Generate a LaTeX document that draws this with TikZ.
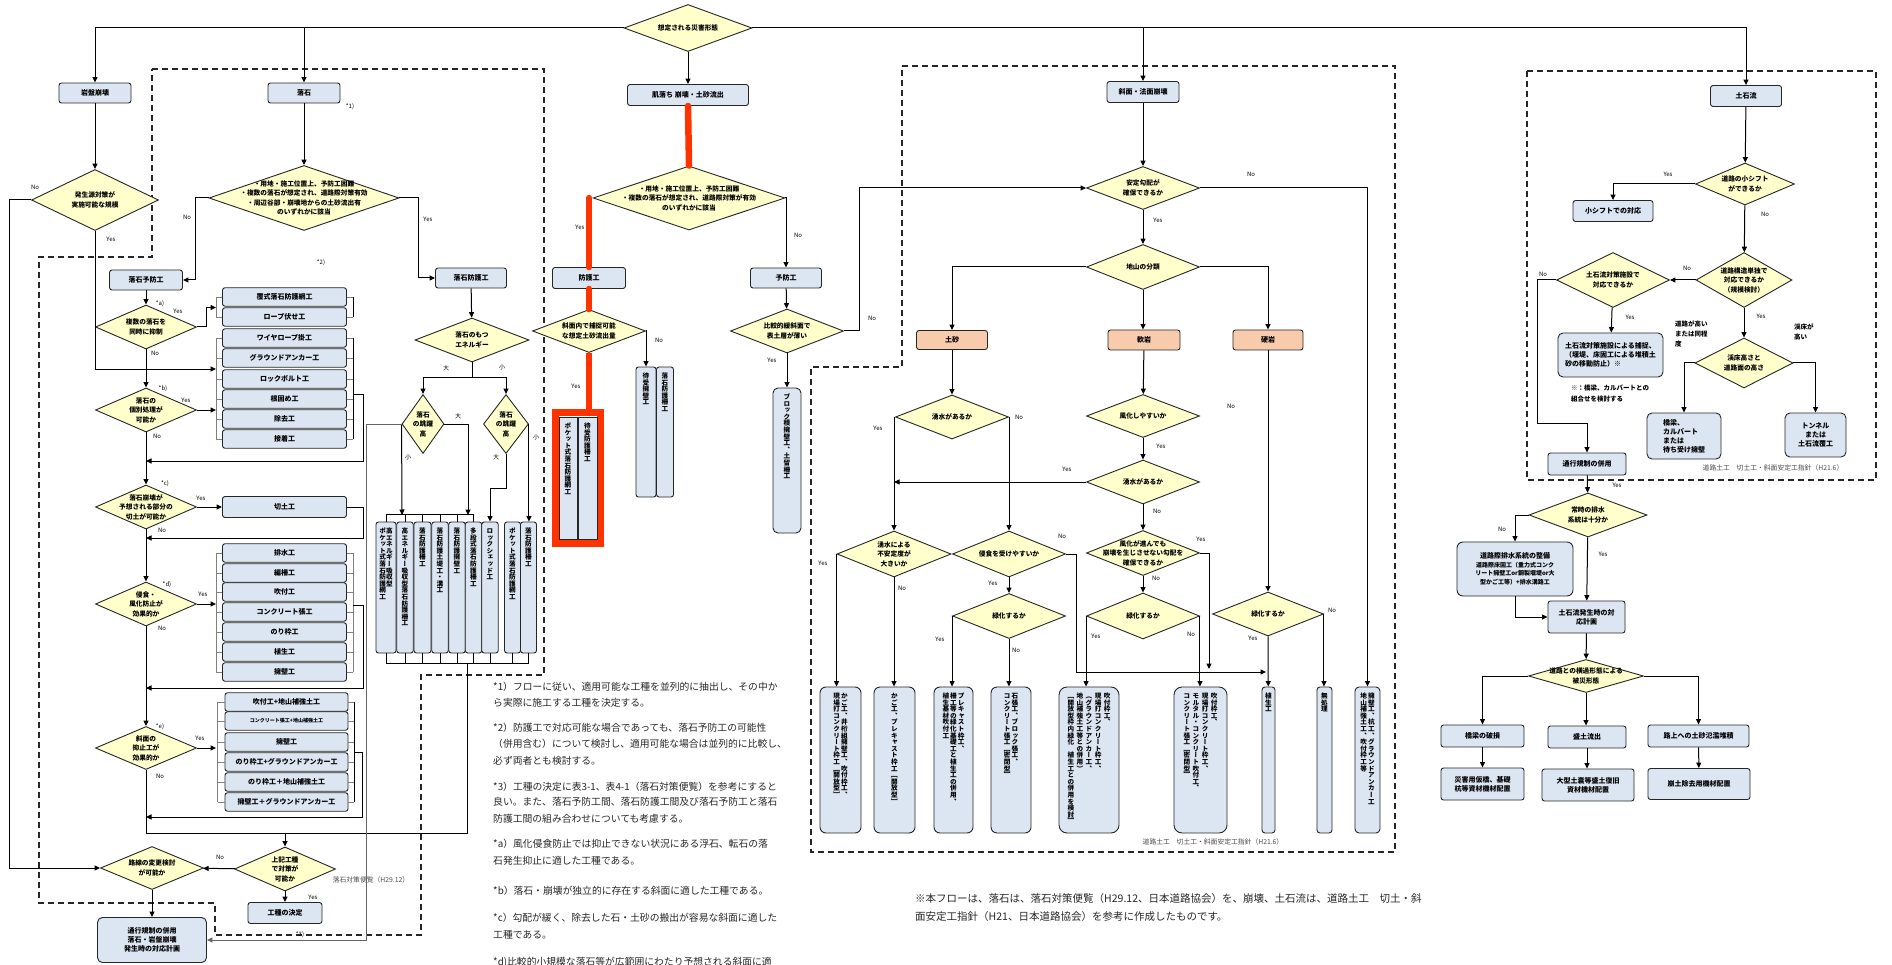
\documentclass[tikz,border=0pt]{standalone}
\usepackage{fontspec}
\newfontfamily\jp{Noto Sans CJK JP}
\newfontfamily\jpv[RawFeature=+vert]{Noto Sans CJK JP}
\usetikzlibrary{shapes.geometric,arrows.meta,calc}
\definecolor{boxblue}{RGB}{220,230,242}
\definecolor{diayel}{RGB}{255,255,204}
\definecolor{boxorange}{RGB}{248,203,173}
\definecolor{hlred}{RGB}{255,51,0}
\makeatletter
\def\tcol@a#1{\ifx\relax#1\else\hbox to 1em{\vrule height .88em depth .12em width 0pt\hss#1\hss}\expandafter\tcol@a\fi}
\newcommand\tcol[1]{\vtop{\offinterlineskip\tcol@a#1\relax}}
\makeatother
\tikzset{
 conn/.style={line width=1pt, draw=black},
 arr/.style={conn, -{Triangle[length=5.5pt,width=5pt]}},
 thinl/.style={line width=0.6pt, draw=black!50},
 box/.style={draw=black!85, fill=boxblue, rounded corners=2.5pt, line width=0.9pt, font=\jp\bfseries\fontsize{7}{9}\selectfont, align=center, inner sep=1pt},
 obox/.style={box, fill=boxorange},
 diam/.style={diamond, draw=black!85, fill=diayel, line width=0.9pt, inner sep=0pt},
 dtext/.style={font=\jp\bfseries\fontsize{6.7}{9.5}\selectfont, align=center, inner sep=0pt},
 lbl/.style={font=\jp\fontsize{6}{7}\selectfont, inner sep=0pt},
 vbox/.style={draw=black!85, fill=boxblue, rounded corners=2.5pt, line width=0.9pt, inner sep=0pt},
 vtext/.style={font=\jpv\bfseries\fontsize{6.6}{6.6}\selectfont, inner sep=0pt, anchor=north},
 dashbox/.style={line width=1.1pt, dash pattern=on 6pt off 4pt, draw=black!85},
 redhl/.style={line width=6.5pt, draw=hlred, line cap=round},
 fnote/.style={font=\jp\fontsize{9.8}{12}\selectfont, anchor=west, inner sep=0pt, text=black!85},
 src/.style={font=\jp\fontsize{6.8}{8}\selectfont, inner sep=0pt, text=black!70},
}
\newcommand\dia[6]{\node[diam, minimum width=#4, minimum height=#5] (#1) at (#2,#3) {}; \node[dtext] (#1t) at (#1) {#6};}
\newcommand\vb[6]{\node[vbox, minimum width=#3, minimum height=#4, #6] (#1) at #2 {}; \node[vtext] (#1t) at ($(#1.north)+(0,6)$) {#5};}
\begin{document}
\begin{tikzpicture}[x=1pt,y=-1pt]
\useasboundingbox (0,0) rectangle (1892,965);
% dashed regions
\draw[dashbox] (152,69) -- (544,69) -- (544,675) -- (421,675) -- (421,935) -- (215,935) -- (215,903) -- (39,903) -- (39,257) -- (152,257) -- cycle;
\draw[dashbox] (902,66) -- (1395,66) -- (1395,852) -- (811,852) -- (811,367) -- (902,367) -- cycle;
\draw[dashbox] (1527,71) rectangle (1876,480);

% top
\dia{top}{688}{28}{128}{47}{想定される災害形態}
\node[box, minimum width=72, minimum height=20] (gan) at (95,93) {岩盤崩壊};
\node[box, minimum width=72, minimum height=20] (rak) at (304,93) {落石};
\node[box, minimum width=121, minimum height=21] (hada) at (688,95) {肌落ち 崩壊・土砂流出};
\node[box, minimum width=72, minimum height=21] (sha) at (1143,92) {斜面・法面崩壊};
\node[box, minimum width=71, minimum height=21] (dos) at (1746,96) {土石流};
\draw[arr] (top.west) -| (gan.north);
\draw[arr] (top.west -| rak.north) -- (rak.north);
\draw[arr] (top.east) -| (dos.north);
\draw[arr] (top.east -| sha.north) -- (sha.north);
\draw[arr] (top.south) -- (hada.north);

% ===== left: rock fall
\dia{d1}{95}{200}{127}{61}{発生源対策が\\実施可能な規模}
\draw[arr] (gan) -- (d1);
\dia{d2}{304}{198}{190}{65}{・用地・施工位置上、予防工困難\\・複数の落石が想定され、道路際対策有効\\・周辺谷部・崩壊地からの土砂流出有\\のいずれかに該当}
\draw[arr] (rak) -- (d2);
\node[box, minimum width=73, minimum height=20] (ryobo) at (146,280) {落石予防工};
\node[box, minimum width=71, minimum height=20] (rbogo) at (471,278) {落石防護工};
\draw[arr] (d2.west) -- ++(-13,0) |- (ryobo.east);
\draw[arr] (d2.east) -- ++(19,0) |- (rbogo.west);

% group 1
\foreach \n/\y/\t in {p1/297/覆式落石防護網工, p2/317/ロープ伏せ工, p3/338/ワイヤロープ掛工, p4/358/グラウンドアンカー工, p5/379/ロックボルト工, p6/399/根固め工, p7/419/除去工, p8/439/接着工}
  \node[box, minimum width=124, minimum height=18.5] (\n) at (284.5,\y) {\t};
\foreach \n in {p1,p2,p3,p4,p5,p6,p7,p8} {\draw[thinl] (\n.west) -- ++(-6,0); \draw[thinl] (\n.east) -- ++(6,0);}
\draw[thinl] ($(p1.west)+(-6,0)$) -- ($(p2.west)+(-6,0)$);
\draw[thinl] ($(p3.west)+(-6,0)$) -- ($(p8.west)+(-6,0)$);
\draw[conn, line width=0.8pt] ($(p1.east)+(6,0)$) -- ($(p2.east)+(6,0)$);
\draw[conn, line width=0.8pt] ($(p3.east)+(6,0)$) -- ($(p8.east)+(6,0)$);
\coordinate (b1) at (216,307.5);
\coordinate (b2) at (216,369);
\coordinate (b3) at (216,410);
\coordinate (m1) at (146,461);
\coordinate (x1) at (353,394);
\draw[arr] (x1) -- ++(10,0) |- (m1);

\dia{d3}{146}{327}{101}{44}{複数の落石を\\同時に抑制}
\draw[arr] (ryobo) -- (d3);
\draw[arr] (d3.east) -- ++(10,0) |- (b1);
\draw[arr] (d1.south) |- (b2);
\dia{d4}{146}{410}{101}{44}{落石の\\個別処理が\\可能か}
\draw[arr] (d3) -- (d4);
\draw[arr] (d4.east) -- (b3);
\dia{d5}{146}{507}{101}{44}{落石崩壊が\\予想される部分の\\切土が可能か}
\draw[arr] (d4) -- (d5);
\node[box, minimum width=124, minimum height=21] (kiri) at (284.5,507) {切土工};
\draw[arr] (d5) -- (kiri);
\coordinate (m2) at (146,538);
\draw[arr] (kiri.east) -- ++(17,0) |- (m2);

% group 3
\dia{d6}{146}{604}{101}{44}{侵食・\\風化防止が\\効果的か}
\draw[arr] (d5) -- (d6);
\foreach \n/\y/\t in {q1/553/排水工, q2/573/編柵工, q3/592/吹付工, q4/612/コンクリート張工, q5/632/のり枠工, q6/652/植生工, q7/672/擁壁工}
  \node[box, minimum width=124, minimum height=18.5] (\n) at (284.5,\y) {\t};
\foreach \n in {q1,q2,q3,q4,q5,q6,q7} {\draw[thinl] (\n.west) -- ++(-6,0); \draw[thinl] (\n.east) -- ++(6,0);}
\draw[thinl] ($(q1.west)+(-6,0)$) -- ($(q7.west)+(-6,0)$);
\draw[thinl] ($(q1.east)+(6,0)$) -- ($(q7.east)+(6,0)$);
\coordinate (b4) at (216,604);
\coordinate (m3) at (146,688);
\coordinate (x3) at (353,605);
\draw[arr] (d6.east) -- (b4);
\draw[arr] (x3) -- ++(10,0) |- (m3);

% group 4
\dia{d7}{146}{748}{101}{43}{斜面の\\抑止工が\\効果的か}
\draw[arr] (d6) -- (d7);
\foreach \n/\y/\t in {r1/702/吹付工+地山補強土工, r2/721/{\fontsize{5}{6}\selectfont コンクリート張工+地山補強土工}, r3/742/擁壁工, r4/762/のり枠工+グラウンドアンカー工, r5/782/のり枠工＋地山補強土工, r6/802/擁壁工＋グラウンドアンカー工}
  \node[box, minimum width=123, minimum height=18.5] (\n) at (286.5,\y) {\t};
\foreach \n in {r1,r2,r3,r4,r5,r6} {\draw[thinl] (\n.west) -- ++(-7,0); \draw[thinl] (\n.east) -- ++(6,0);}
\draw[thinl] ($(r1.west)+(-7,0)$) -- ($(r6.west)+(-7,0)$);
\draw[conn, line width=0.8pt] ($(r1.east)+(6,0)$) -- ($(r6.east)+(6,0)$);
\coordinate (b5) at (216,748);
\coordinate (m4) at (146,817);
\coordinate (x4) at (354,752);
\draw[arr] (d7.east) -- (b5);
\draw[arr] (x4) -- ++(8,0) |- (m4);

% bottom of rock fall
\coordinate (j1) at (146,833);
\coordinate (j2) at (467,833);
\coordinate (j3) at (285,833);
\coordinate (vbj) at (467,663);
\draw[conn] (d7.south) -- (j1) -- (j2) -- (vbj);
\dia{d8}{285}{869}{101}{44}{上記工種\\で対策が\\可能か}
\dia{d9}{152}{868}{103}{43}{路線の変更検討\\が可能か}
\draw[arr] (j3) -- (d8.north);
\draw[arr] (d8) -- (d9);
\draw[arr] (d1.west) -- ++(-22,0) |- (d9.west);
\node[box, minimum width=74, minimum height=21] (kdec) at (285,913) {工種の決定};
\draw[arr] (d8) -- (kdec);
\node[box, minimum width=109, minimum height=45, rounded corners=5pt] (tsu) at (152,940) {通行規制の併用\\落石・岩盤崩壊\\発生時の対応計画};
\draw[arr] (d9) -- (tsu);
\node[src] (bin) at (371,880) {落石対策便覧（H29.12）};

% protection branch
\dia{en}{472}{340}{114}{44}{落石のもつ\\エネルギー}
\draw[arr] (rbogo) -- (en);
\dia{jy1}{423}{424}{42}{59}{落石\\の跳躍\\高}
\dia{jy2}{506}{424}{45}{59}{落石\\の跳躍\\高}
\draw[arr] (en.south) -- ++(0,15) -| (jy1.north);
\draw[arr] (en.south) -- ++(0,15) -| (jy2.north);
\vb{v1}{(386,587.5)}{20}{131}{\tcol{ポケット式落石防護網工}\kern0.3pt\tcol{高エネルギー吸収型}}{}
\vb{v2}{(405,587.5)}{16.5}{131}{\tcol{高エネルギー吸収型落石防護柵工}}{}
\vb{v3}{(422.5,587.5)}{17}{131}{\tcol{落石防護柵工}}{}
\vb{v4}{(440,587.5)}{16.5}{131}{\tcol{落石防護土堤工・溝工}}{}
\vb{v5}{(457,587.5)}{16.5}{131}{\tcol{落石防護擁壁工}}{}
\vb{v6}{(473.5,587.5)}{16.5}{131}{\tcol{多段式落石防護柵工}}{}
\vb{v7}{(490,587.5)}{16.5}{131}{\tcol{ロックシェッド工}}{}
\vb{v8}{(512.5,587.5)}{16}{131}{\tcol{ポケット式落石防護網工}}{}
\vb{v9}{(528.5,587.5)}{16}{131}{\tcol{落石防護柵工}}{}
\foreach \n in {v1,v2,v3,v4,v5,v6} \draw[conn, line width=0.7pt] (\n.north) -- ++(0,-7);
\draw[conn, line width=0.7pt] ($(v1.north)+(0,-7)$) -- ($(v6.north)+(0,-7)$);
\foreach \n in {v1,v2,v3,v4,v5,v6,v7,v8,v9} \draw[conn, line width=0.7pt] (\n.south) -- ++(0,10);
\draw[conn, line width=0.7pt] ($(v1.south)+(0,10)$) -- ($(v9.south)+(0,10)$);
\coordinate (t1) at (402,515);
\coordinate (t2) at (468,515);
\draw[arr] (jy1.west) -- (t1);
\draw[arr] (jy1.east) -| (t2);
\draw[arr] (jy2.south) -- ++(0,35) -| (v7.north);
\draw[arr] (jy2.east) -- (jy2.east |- v9.north);
\draw[arr, line width=0.7pt, draw=black!60] (jy1.west) -- ++(-35,0) |- (tsu.east);

% labels rock fall
\foreach \p/\t in {{(35,187)}/No, {(111,239)}/Yes, {(350,107)}/*1), {(187,217)}/No, {(428,219)}/Yes, {(321,263)}/*2),
 {(160,304)}/*a), {(178,311)}/Yes, {(155,353)}/No, {(163,389)}/*b), {(186,400)}/Yes, {(157,436)}/No,
 {(165,484)}/*c), {(201,498)}/Yes, {(162,530)}/No, {(167,585)}/*d), {(203,594)}/Yes, {(162,628)}/No,
 {(160,727)}/*e), {(200,738)}/Yes, {(160,776)}/No, {(220,857)}/No, {(313,897)}/Yes, {(300,935)}/*3),
 {(446,368)}/大, {(502,367)}/小, {(458,416)}/大, {(408,457)}/小, {(496,457)}/大, {(536,437)}/小}
  \node[lbl] at \p {\t};

% ===== middle
\dia{d10}{689}{198}{192}{64}{・用地・施工位置上、予防工困難\\・複数の落石が想定され、道路際対策が有効\\のいずれかに該当}
\node[box, minimum width=73, minimum height=21] (bogo) at (589,278) {防護工};
\node[box, minimum width=71, minimum height=20] (yobo) at (786,278) {予防工};
\draw[redhl] (hada.south) -- (d10.north);
\draw[redhl] (d10.west -| bogo.north) -- (bogo.north);
\draw[arr] (d10.east) -| (yobo.north);
\dia{d11}{589}{331}{113}{43}{斜面内で捕捉可能\\な想定土砂流出量}
\draw[redhl] (bogo.south) -- (d11.north);
\node[draw=hlred, line width=7pt, minimum width=45, minimum height=131, inner sep=0pt] (redbox) at (578,478) {};
\draw[redhl, line cap=butt] (d11.south) -- (d11.south |- redbox.north);
\vb{w1}{(568,478)}{18}{122}{\tcol{ポケット式落石防護網工}}{rounded corners=0pt}
\vb{w2}{(587.5,478)}{19}{122}{\tcol{待受防護柵工}}{rounded corners=0pt}
\vb{w3}{(646,432)}{20}{130}{\tcol{待受擁壁工}}{}
\vb{w4}{(665,432)}{17}{130}{\tcol{落石防護柵工}}{}
\draw[arr] (d11.east) -| (w3.north);
\dia{d12}{787}{331}{113}{44}{比較的緩斜面で\\表土層が薄い}
\draw[arr] (yobo) -- (d12);
\vb{blk}{(787,460.5)}{28}{145}{\tcol{ブロック積擁壁工、土留柵工}}{rounded corners=5pt}
\draw[arr] (d12) -- (blk);

% ===== slope
\dia{d13}{1143}{188}{113}{43}{安定勾配が\\確保できるか}
\draw[arr] (sha) -- (d13);
\draw[arr] (d12.east) -- ++(16,0) |- (d13.west);
\dia{d14}{1143}{267}{113}{45}{地山の分類}
\draw[arr] (d13) -- (d14);
\node[obox, minimum width=71, minimum height=19] (dosha) at (952,340) {土砂};
\node[obox, minimum width=72, minimum height=20] (nanga) at (1144,340) {軟岩};
\node[obox, minimum width=70, minimum height=20] (kouga) at (1268,340) {硬岩};
\draw[arr] (d14.west) -| (dosha.north);
\draw[arr] (d14.south) -- (d14.south |- nanga.north);
\draw[arr] (d14.east) -| (kouga.north);

\dia{d15}{952}{417}{113}{44}{湧水があるか}
\draw[arr] (dosha) -- (d15);
\dia{d16}{894}{554}{114}{46}{湧水による\\不安定度が\\大きいか}
\dia{d17}{1009}{554}{113}{46}{侵食を受けやすいか}
\dia{d18}{1009}{616}{113}{45}{緑化するか}
\draw[arr] (d15.west) -| (d16.north);
\draw[arr] (d15.east) -| (d17.north);
\draw[arr] (d17) -- (d18);

\dia{d19}{1143}{416}{113}{43}{風化しやすいか}
\draw[arr] (nanga) -- (d19);
\dia{d20}{1143}{482}{113}{44}{湧水があるか}
\draw[arr] (d19) -- (d20);
\draw[arr] (d20.west) -- (d16.north |- d20.west);
\dia{d21}{1143}{553}{113}{45}{風化が進んでも\\崩壊を生じさせない勾配を\\確保できるか}
\draw[arr] (d20) -- (d21);
\dia{d22}{1143}{616}{113}{46}{緑化するか}
\draw[arr] (d21) -- (d22);
\dia{d23}{1268}{614}{111}{44}{緑化するか}
\draw[arr] (kouga) -- (d23);

\vb{s1}{(840.5,760)}{41}{146}{\tcol{現場打コンクリート枠工［開放型］}\kern1pt\tcol{かご工、井桁組擁壁工、吹付枠工、}}{rounded corners=6pt}
\vb{s2}{(894.5,760)}{41}{146}{\tcol{かご工、プレキャスト枠工［開放型］}}{rounded corners=6pt}
\vb{s3}{(953.5,760)}{39}{146}{\tcol{植生基材吹付工}\kern1pt\tcol{柵工等の緑化基礎工と植生工の併用、}\kern1pt\tcol{プレキャスト枠工、}}{rounded corners=6pt}
\vb{s4}{(1011,760)}{40}{146}{\tcol{コンクリート張工［密閉型］}\kern1pt\tcol{石張工、ブロック張工、}}{rounded corners=6pt}
\vb{s5}{(1089,760)}{60}{146}{\tcol{［開放型枠内緑化　植生工との併用を検討］}\kern2.5pt\tcol{地山補強土工等との併用）}\kern2.5pt\tcol{（グラウンドアンカー工、}\kern2.5pt\tcol{現場打コンクリート枠工、}\kern2.5pt\tcol{吹付枠工、}}{rounded corners=8pt}
\vb{s6}{(1200.5,760)}{53}{146}{\tcol{コンクリート張工［密閉型］}\kern2.5pt\tcol{モルタル・コンクリート吹付工、}\kern2.5pt\tcol{現場打コンクリート枠工、}\kern2.5pt\tcol{吹付枠工、}}{rounded corners=8pt}
\vb{s7}{(1268.5,760)}{13}{146}{\tcol{植生工}}{rounded corners=3pt}
\vb{s8}{(1324.5,760)}{15}{146}{\tcol{無処理}}{rounded corners=3pt}
\vb{s9}{(1367.5,760)}{25}{146}{\tcol{地山補強土工、吹付枠工等}\kern1pt\tcol{擁壁工、杭工、グラウンドアンカー工}}{rounded corners=4pt}

\draw[arr] (d13.east) -| (s9.north);
\draw[arr] (d16.west) -- (d16.west |- s1.north);
\draw[arr] (d16.south) -- (d16.south |- s2.north);
\draw[arr] (d18.west) -- (d18.west |- s3.north);
\draw[arr] (d18.south) -- (d18.south |- s4.north);
\coordinate (g1) at (1266,672);
\coordinate (g2) at (1209,669);
\draw[arr] (d17.east) -- ++(11,0) |- (g1);
\draw[arr] (d21.east) -| (g2);
\draw[arr] (d22.west) -- (d22.west |- s5.north);
\draw[arr] (d22.east) -- (d22.east |- s6.north);
\draw[arr] (d23) -- (s7);
\draw[arr] (d23.east) -- (d23.east |- s8.north);
\node[src] (src1) at (1213,842) {道路土工　切土工・斜面安定工指針（H21.6）};

\foreach \p/\t in {{(580,227)}/Yes, {(798,235)}/No, {(576,386)}/Yes, {(659,340)}/No, {(772,360)}/Yes, {(872,318)}/No,
 {(1251,174)}/No, {(1158,220)}/Yes, {(878,428)}/Yes, {(1019,417)}/No, {(1231,406)}/No, {(1161,446)}/Yes, {(1067,469)}/Yes,
 {(1157,511)}/No, {(823,563)}/Yes, {(902,588)}/No, {(1062,536)}/No, {(993,583)}/Yes, {(1201,539)}/Yes, {(1156,578)}/No,
 {(940,639)}/Yes, {(1016,650)}/No, {(1096,636)}/Yes, {(1191,634)}/No, {(1253,638)}/Yes, {(1332,610)}/No,
 {(1668,174)}/Yes, {(1765,214)}/No, {(1687,268)}/No, {(1543,274)}/No, {(1630,317)}/Yes, {(1761,316)}/Yes,
 {(1617,485)}/Yes, {(1502,529)}/No, {(1603,554)}/Yes}
  \node[lbl] at \p {\t};

% ===== debris flow
\dia{e1}{1745}{184}{99}{42}{道路の小シフト\\ができるか}
\draw[arr] (dos) -- (e1);
\node[box, minimum width=80, minimum height=21] (shift) at (1613,211) {小シフトでの対応};
\draw[arr] (e1.west) -| (shift.north);
\dia{e2}{1744}{280}{96}{55}{道路構造単独で\\対応できるか\\（規模検討）}
\draw[arr] (e1) -- (e2);
\dia{e3}{1613}{280}{113}{55}{土石流対策施設で\\対応できるか}
\draw[arr] (e2) -- (e3);
\node[box, minimum width=105, minimum height=44, align=left, rounded corners=5pt] (hosoku) at (1610.5,355) {土石流対策施設による捕捉、\\（堰堤、床固工による堆積土\\砂の移動防止）※};
\draw[arr] (e3) -- (hosoku);
\node[lbl, anchor=west, align=left, font=\jp\bfseries\fontsize{6.5}{10.5}\selectfont] (kome) at (1571,393.5) {※：橋梁、カルバートとの\\組合せを検討する};
\dia{e4}{1744}{363}{98}{50}{渓床高さと\\道路面の高さ}
\draw[arr] (e2) -- (e4);
\node[lbl, anchor=north west, align=left, font=\jp\bfseries\fontsize{6.5}{10}\selectfont] (dh) at (1675,321) {道路が高い\\または同程\\度};
\node[lbl, anchor=north west, align=left, font=\jp\bfseries\fontsize{6.5}{10}\selectfont] (kh) at (1794,324) {渓床が\\高い};
\node[box, minimum width=74, minimum height=46, rounded corners=5pt, align=left] (kyo) at (1684,436) {橋梁、\\カルバート\\または\\待ち受け擁壁};
\node[box, minimum width=61, minimum height=44, rounded corners=5pt] (tun) at (1815.5,435) {トンネル\\または\\土石流覆工};
\draw[arr] (e4.west) -| (kyo.north);
\draw[arr] (e4.east) -| (tun.north);
\node[src] (src2) at (1773,468) {道路土工　切土工・斜面安定工指針（H21.6）};
\node[box, minimum width=78, minimum height=22] (heiyo) at (1587,464) {通行規制の併用};
\draw[arr] (e3.west) -- ++(-19,0) |- ($(heiyo.north)+(0,-29)$) -- (heiyo.north);
\dia{e5}{1588}{515}{118}{44}{常時の排水\\系統は十分か}
\draw[arr] (heiyo) -- (e5);
\node[box, minimum width=116, minimum height=54, rounded corners=6pt, font=\jp\bfseries\fontsize{6}{8.5}\selectfont] (haisui) at (1515,569) {{\fontsize{7}{9}\selectfont 道路際排水系統の整備}\\道路際床固工（重力式コンク\\リート擁壁工or鋼製堰堤or大\\型かご工等）+排水溝路工};
\draw[arr] (e5.west) -| (haisui.north);
\node[box, minimum width=77, minimum height=32] (taio) at (1586.5,617) {土石流発生時の対\\応計画};
\draw[arr] (e5) -- (taio);
\draw[arr] (haisui.south) |- (taio.west);
\dia{e6}{1586}{676}{115}{33}{道路との横過形態による\\被災形態}
\draw[arr] (taio) -- (e6);
\node[box, minimum width=83, minimum height=22] (f1) at (1482.5,736) {橋梁の破損};
\node[box, minimum width=78, minimum height=22] (f2) at (1587,737) {盛土流出};
\node[box, minimum width=101, minimum height=22] (f3) at (1698.5,736) {路上への土砂氾濫堆積};
\draw[arr] (e6.west) -| (f1.north);
\draw[arr] (e6.south) -- (e6.south |- f2.north);
\draw[arr] (e6.east) -| (f3.north);
\node[box, minimum width=83, minimum height=32] (h1) at (1482.5,784) {災害用仮橋、基礎\\杭等資材機材配置};
\node[box, minimum width=92, minimum height=32] (h2) at (1588,785) {大型土嚢等盛土復旧\\資材機材配置};
\node[box, minimum width=102, minimum height=31] (h3) at (1699,784) {崩土除去用機材配置};
\draw[arr] (f1) -- (h1);
\draw[arr] (f2.south) -- (f2.south |- h2.north);
\draw[arr] (f3) -- (h3);

% ===== notes
\node[fnote] (n1) at (493,687) {*1）フローに従い、適用可能な工種を並列的に抽出し、その中か};
\node[fnote] (n2) at (493,703) {ら実際に施工する工種を決定する。};
\node[fnote] (n3) at (493,728) {*2）防護工で対応可能な場合であっても、落石予防工の可能性};
\node[fnote] (n4) at (493,744) {（併用含む）について検討し、適用可能な場合は並列的に比較し、};
\node[fnote] (n5) at (493,761) {必ず両者とも検討する。};
\node[fnote] (n6) at (493,787) {*3）工種の決定に表3-1、表4-1（落石対策便覧）を参考にすると};
\node[fnote] (n7) at (493,802) {良い。また、落石予防工間、落石防護工間及び落石予防工と落石};
\node[fnote] (n8) at (493,819) {防護工間の組み合わせについても考慮する。};
\node[fnote] (n9) at (493,844) {*a）風化侵食防止では抑止できない状況にある浮石、転石の落};
\node[fnote] (n10) at (493,861) {石発生抑止に適した工種である。};
\node[fnote] (n11) at (493,891) {*b）落石・崩壊が独立的に存在する斜面に適した工種である。};
\node[fnote] (n12) at (493,918) {*c）勾配が緩く、除去した石・土砂の搬出が容易な斜面に適した};
\node[fnote] (n13) at (493,935) {工種である。};
\node[fnote] (n14) at (493,962) {*d)比較的小規模な落石等が広範囲にわたり予想される斜面に適};
\node[fnote, font=\jp\fontsize{10.5}{12}\selectfont] (n15) at (915,899) {※本フローは、落石は、落石対策便覧（H29.12、日本道路協会）を、崩壊、土石流は、道路土工　切土・斜};
\node[fnote, font=\jp\fontsize{10.5}{12}\selectfont] (n16) at (915,917) {面安定工指針（H21、日本道路協会）を参考に作成したものです。};
\end{tikzpicture}
\end{document}
